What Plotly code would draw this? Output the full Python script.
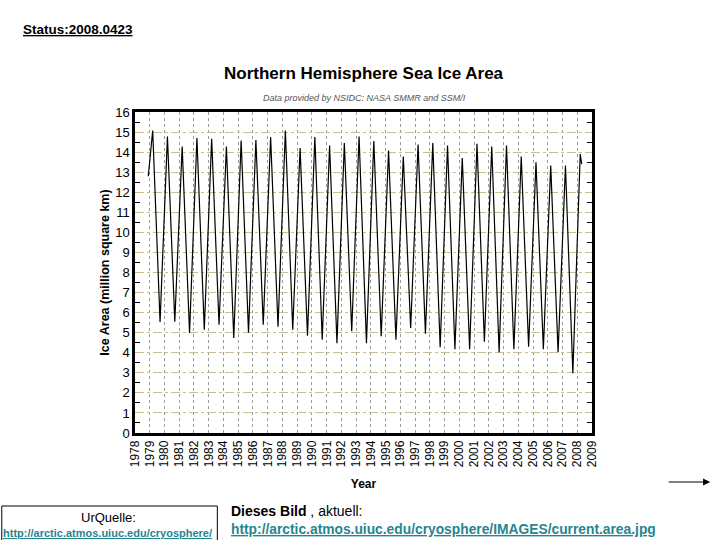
import plotly.graph_objects as go

# ---- data ----
max_years = list(range(1979, 2009))
max_area = [15.08, 14.78, 14.28, 14.70, 14.67, 14.28, 14.58, 14.60, 14.75, 15.08,
            14.20, 14.75, 14.33, 14.45, 14.78, 14.55, 14.08, 13.78, 14.38, 14.45,
            14.33, 13.70, 14.42, 14.28, 14.33, 13.78, 13.50, 13.33, 13.33, 13.90]
min_years = list(range(1979, 2008))
min_area = [5.53, 5.55, 4.98, 5.15, 5.40, 4.73, 5.00, 5.40, 5.30, 5.15,
            4.85, 4.65, 4.48, 5.07, 4.48, 4.82, 4.65, 5.23, 4.95, 4.28,
            4.18, 4.18, 4.55, 4.02, 4.18, 4.30, 4.18, 4.02, 2.98]
start_point = (1978.9, 12.8)
end_point = (2008.3, 13.4)
x_ticks = list(range(1978, 2010))
y_ticks = list(range(0, 17))

# build the seasonal sequence (March maximum, September minimum)
xs = [start_point[0]]
ys = [start_point[1]]
mins = dict(zip(min_years, min_area))
for yr, mx in zip(max_years, max_area):
    xs.append(yr + 0.2)
    ys.append(mx)
    if yr in mins:
        xs.append(yr + 0.7)
        ys.append(mins[yr])
xs.append(end_point[0])
ys.append(end_point[1])

FONT = "Liberation Sans, Arial, Helvetica, sans-serif"
LINK = "#26858f"

# plot area in pixels
L, R, T, B = 134.5, 592.5, 112, 433
W, H = 720, 540


def px(x):
    return (x - L) / (R - L)


def py(y):
    return (B - y) / (B - T)


fig = go.Figure()
fig.add_trace(go.Scatter(x=xs, y=ys, mode="lines",
                         line=dict(color="black", width=1.2),
                         hoverinfo="skip", showlegend=False))

fig.update_layout(
    width=W, height=H,
    margin=dict(l=L, r=W - R, t=T, b=H - B, pad=0, autoexpand=False),
    paper_bgcolor="white", plot_bgcolor="white",
    font=dict(family=FONT, color="black"),
    showlegend=False,
)

fig.update_xaxes(
    range=[1978, 2009], tickvals=x_ticks, ticktext=[str(v) for v in x_ticks],
    tickangle=-90, tickfont=dict(size=12, family=FONT),
    showgrid=True, gridcolor="#9a9a9a", griddash="dot", gridwidth=1,
    showline=True, linecolor="black", linewidth=2.5, mirror=True,
    ticks="", zeroline=False, automargin=False,
    title=dict(text="<b>Year</b>", font=dict(size=12), standoff=14),
)
fig.update_yaxes(
    range=[0, 16], tickvals=y_ticks, tickfont=dict(size=13, family=FONT),
    showgrid=True, gridcolor="#cbbd92", griddash="dashdot", gridwidth=1,
    showline=True, linecolor="black", linewidth=2.5, mirror="allticks",
    ticks="", zeroline=False, automargin=False,
    minor=dict(tickvals=[v + 0.5 for v in y_ticks[:-1]], ticks="inside",
               ticklen=5, tickcolor="black", showgrid=False),
    title=dict(text="<b>Ice Area (million square km)</b>",
               font=dict(size=12.5), standoff=3),
)

ann = [
    dict(text="<b>Northern Hemisphere Sea Ice Area</b>", x=px(364), y=py(73),
         font=dict(size=17)),
    dict(text="<i>Data provided by NSIDC: NASA SMMR and SSM/I</i>", x=px(365), y=py(98),
         font=dict(size=9, color="#555555")),
    dict(text="<b><u>Status:2008.0423</u></b>", x=px(20), y=py(30), xanchor="left",
         font=dict(size=13.5)),
    dict(text="UrQuelle:", x=px(108), y=py(517), font=dict(size=13)),
    dict(text="<b><u>http://arctic.atmos.uiuc.edu/cryosphere/</u></b>", x=px(107), y=py(533),
         font=dict(size=11, color=LINK)),
    dict(text="<b>Dieses Bild</b> , aktuell:", x=px(229), y=py(511), xanchor="left",
         font=dict(size=14)),
    dict(text="<b><u>http://arctic.atmos.uiuc.edu/cryosphere/IMAGES/current.area.jpg</u></b>",
         x=px(229), y=py(529), xanchor="left", font=dict(size=13.8, color=LINK)),
]
annotations = []
for a in ann:
    base = dict(xref="paper", yref="paper", showarrow=False, yanchor="middle",
                xanchor="center")
    base.update(a)
    annotations.append(base)

# arrow at right
annotations.append(dict(xref="paper", yref="paper", x=px(711), y=py(482),
                        ax=-43, ay=0, axref="pixel", ayref="pixel",
                        showarrow=True, arrowhead=2, arrowsize=1.2, arrowwidth=1.2,
                        arrowcolor="black", text=""))
fig.update_layout(annotations=annotations)

# box around the UrQuelle note
fig.add_shape(type="rect", xref="paper", yref="paper",
              x0=px(1), x1=px(217), y0=py(506), y1=py(541),
              line=dict(color="black", width=1))

fig.write_html("out.html",
               config={"displayModeBar": False},
               post_script="document.body.style.margin='0px';")
